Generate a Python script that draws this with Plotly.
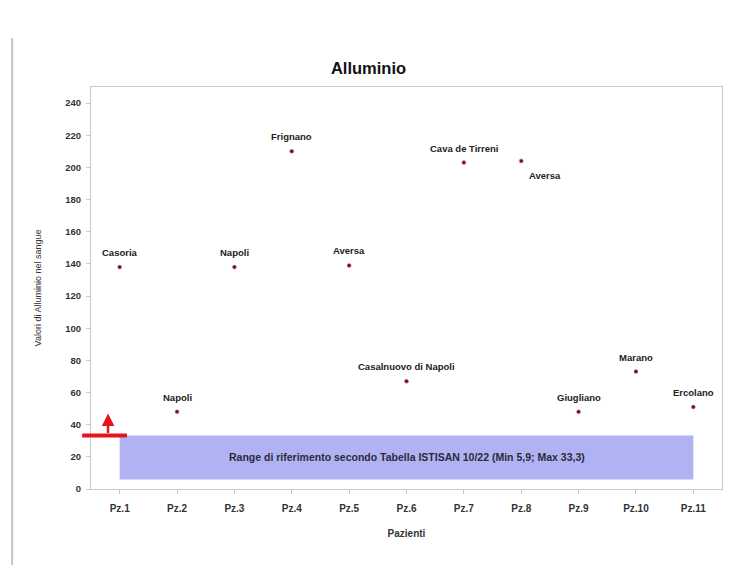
import plotly.graph_objects as go

# ---- data ----
pazienti = ["Pz.1", "Pz.2", "Pz.3", "Pz.4", "Pz.5", "Pz.6", "Pz.7", "Pz.8", "Pz.9", "Pz.10", "Pz.11"]
valori = [138, 48, 138, 210, 139, 67, 203, 204, 48, 73, 51]
citta = ["Casoria", "Napoli", "Napoli", "Frignano", "Aversa", "Casalnuovo di Napoli",
         "Cava de Tirreni", "Aversa", "Giugliano", "Marano", "Ercolano"]
label_below = [False] * 7 + [True] + [False] * 3
ref_min = 5.9
ref_max = 33.3
ref_text = "Range di riferimento secondo Tabella ISTISAN 10/22 (Min 5,9; Max 33,3)"
y_ticks = list(range(0, 241, 20))

FONT = "Liberation Sans"

fig = go.Figure()

fig.add_trace(go.Scatter(
    x=pazienti, y=valori, mode="markers",
    marker=dict(size=4, color="#6e1020", line=dict(width=1, color="rgba(235,130,150,0.55)")),
    showlegend=False, cliponaxis=False,
))

for p, v, c, below in zip(pazienti, valori, citta, label_below):
    if below:
        fig.add_annotation(x=p, y=v, text=f"<b>{c}</b>", showarrow=False,
                           xanchor="left", yanchor="top", xshift=6, yshift=-7,
                           font=dict(family=FONT, size=9.5, color="#222222"))
    else:
        fig.add_annotation(x=p, y=v, text=f"<b>{c}</b>", showarrow=False,
                           xanchor="center", yanchor="bottom", yshift=7,
                           font=dict(family=FONT, size=9.5, color="#222222"))

# reference range box
fig.add_shape(type="rect", xref="x", yref="y", x0=0, x1=10, y0=ref_min, y1=ref_max,
              fillcolor="#b0b2f2", line=dict(width=0), layer="below")
fig.add_annotation(x=5, y=(ref_min + ref_max) / 2, xref="x", yref="y", text=f"<b>{ref_text}</b>",
                   showarrow=False, font=dict(family=FONT, size=10.5, color="#2a2a3a"))

# red marker line and arrow at upper limit
fig.add_shape(type="line", xref="paper", yref="y", x0=-0.014, x1=0.057, y0=ref_max, y1=ref_max,
              line=dict(color="#e3141c", width=4))
fig.add_annotation(xref="paper", yref="y", x=0.027, y=47, ax=0, ay=21, text="",
                   showarrow=True, arrowhead=2, arrowsize=1, arrowwidth=2.5, arrowcolor="#e3141c")

# chart-area left border
fig.add_shape(type="line", xref="paper", yref="paper", x0=-0.125, x1=-0.125, y0=-0.2, y1=1.122,
              line=dict(color="#c4c4c4", width=2))

fig.update_layout(
    width=737, height=565,
    margin=dict(l=91, r=15, t=87, b=76),
    paper_bgcolor="white", plot_bgcolor="white",
    title=dict(text="<b>Alluminio</b>", x=0.5, xanchor="center", y=0.88, yanchor="middle",
               font=dict(family=FONT, size=16.5, color="#111111")),
    font=dict(family=FONT, color="#222222"),
)
fig.update_xaxes(
    type="category", range=[-0.5, 10.5],
    tickvals=pazienti, ticktext=[f"<b>{p}</b>" for p in pazienti],
    tickfont=dict(family=FONT, size=10, color="#333333"),
    ticks="outside", ticklen=4, tickcolor="#c8c8c8", ticklabelstandoff=6,
    showline=True, linecolor="#c8c8c8", linewidth=1, mirror=True,
    showgrid=False, zeroline=False,
    title=dict(text="<b>Pazienti</b>", font=dict(family=FONT, size=10, color="#333333"), standoff=16),
)
fig.update_yaxes(
    range=[0, 250], tickvals=y_ticks, ticktext=[f"<b>{v}</b>" for v in y_ticks],
    tickfont=dict(family=FONT, size=9.5, color="#333333"),
    ticks="outside", ticklen=4, tickcolor="#c8c8c8", ticklabelstandoff=3,
    showline=True, linecolor="#c8c8c8", linewidth=1, mirror=True,
    showgrid=False, zeroline=False,
    title=dict(text="Valori di Alluminio nel sangue", font=dict(family=FONT, size=9, color="#333333"), standoff=22),
)

fig.write_html("out.html")
